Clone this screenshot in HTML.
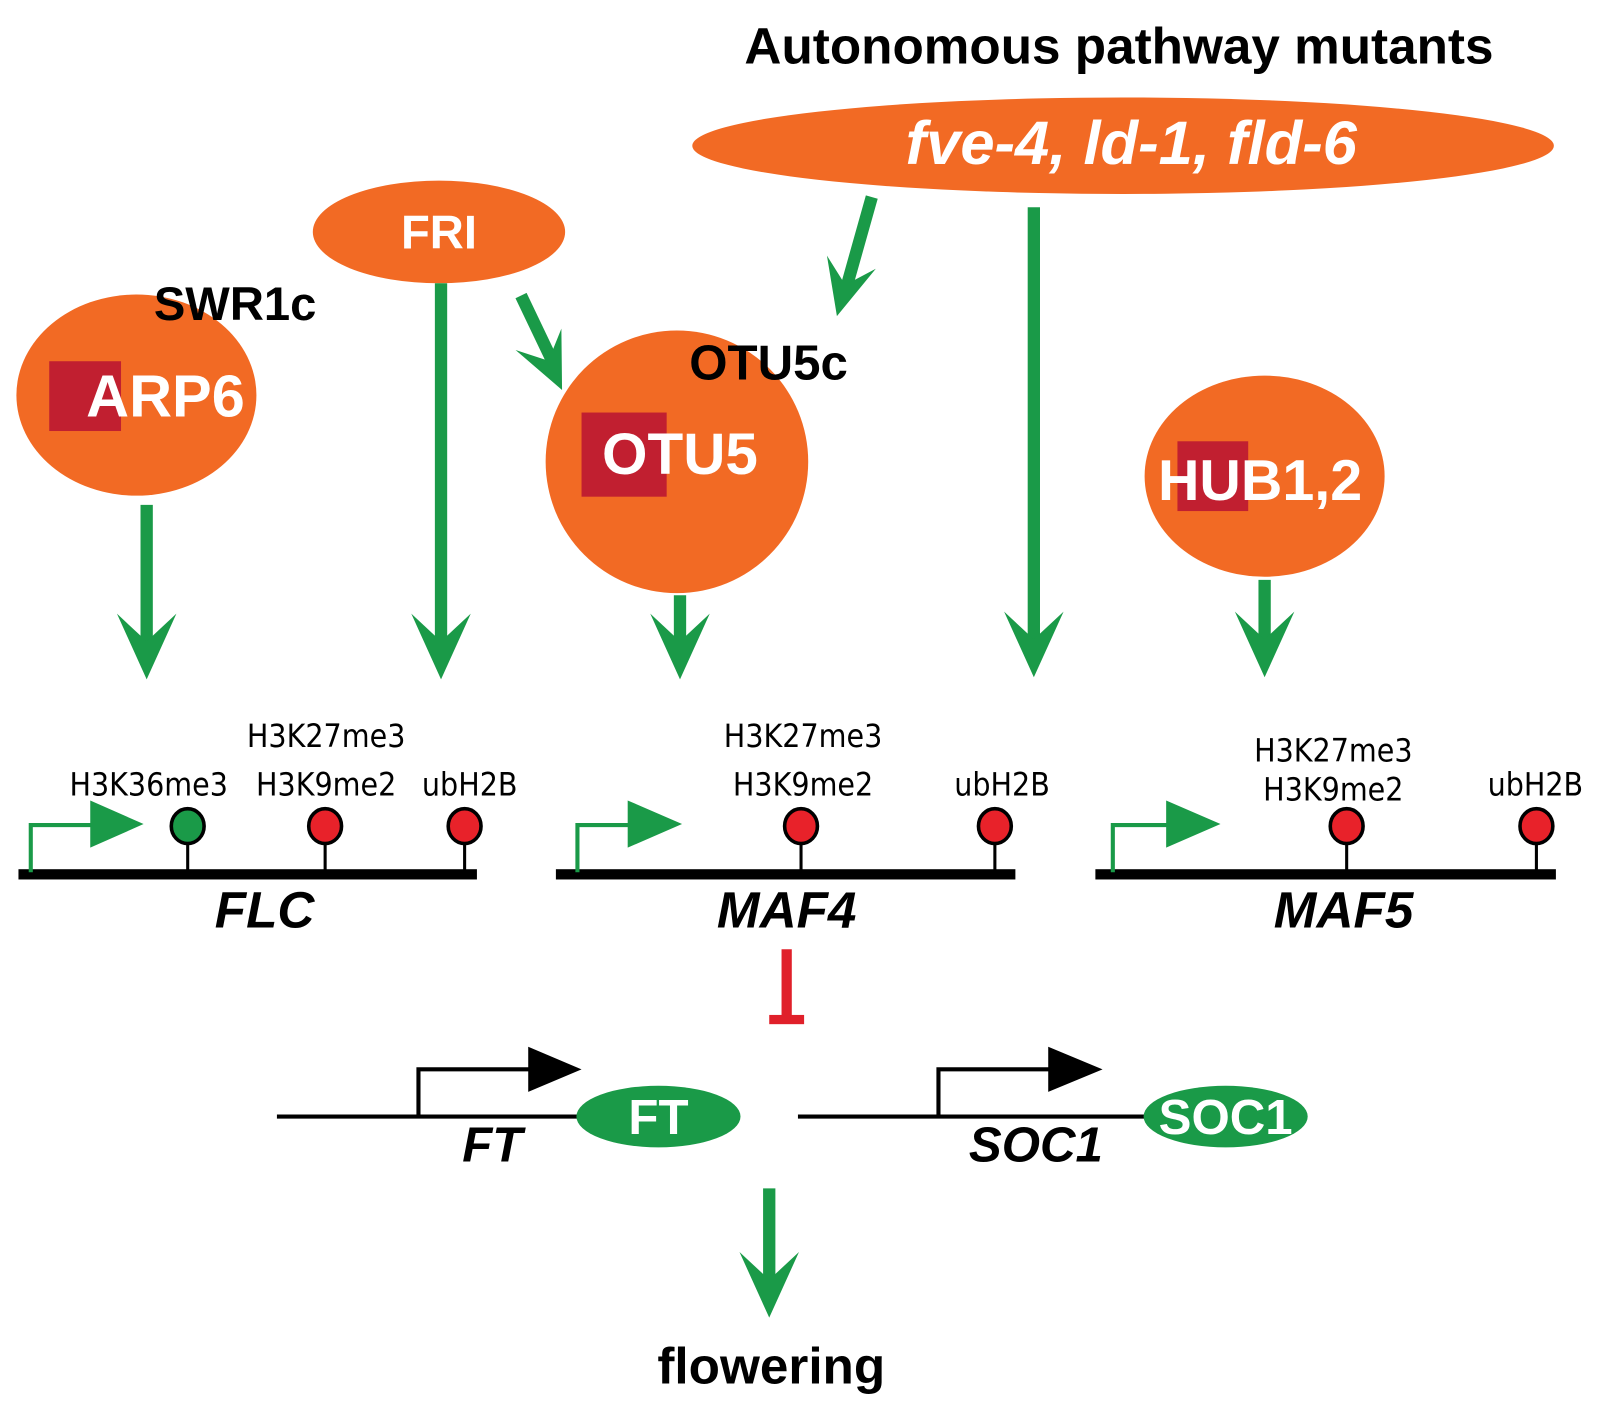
<!DOCTYPE html>
<html><head><style>html,body{margin:0;padding:0;background:#fff}svg{display:block}</style></head><body>
<svg width="1600" height="1409" viewBox="0 0 1560 1373" preserveAspectRatio="none" xmlns="http://www.w3.org/2000/svg" font-family="Liberation Sans, sans-serif">
<defs>
<g id="ah"><polygon points="-29,-64 0,0 29,-64 0,-37" fill="#1a9a48"/></g>
</defs>
<text x="1091" y="62" font-size="50" font-weight="bold" text-anchor="middle">Autonomous pathway mutants</text>
<ellipse cx="1095" cy="142" rx="420" ry="47" fill="#f26a24"/>
<text x="1103" y="160" font-size="60" font-weight="bold" font-style="italic" fill="#fff" text-anchor="middle">fve-4, ld-1, fld-6</text>
<ellipse cx="428" cy="226" rx="123" ry="50" fill="#f26a24"/>
<text x="428" y="242" font-size="46" font-weight="bold" fill="#fff" text-anchor="middle">FRI</text>
<ellipse cx="133" cy="385" rx="117" ry="98" fill="#f26a24"/>
<rect x="48" y="352" width="70" height="68" fill="#c11f30"/>
<text x="84" y="406" font-size="58" font-weight="bold" fill="#fff">ARP6</text>
<text x="150" y="312" font-size="46" font-weight="bold">SWR1c</text>
<circle cx="660" cy="450" r="128" fill="#f26a24"/>
<rect x="567" y="402" width="83" height="82" fill="#c11f30"/>
<text x="587" y="462" font-size="57" font-weight="bold" fill="#fff">OTU5</text>
<text x="672" y="370" font-size="48" font-weight="bold">OTU5c</text>
<ellipse cx="1233" cy="464" rx="117" ry="98" fill="#f26a24"/>
<rect x="1148" y="430" width="69" height="68" fill="#c11f30"/>
<text x="1129" y="487" font-size="56" font-weight="bold" fill="#fff">HUB1,2</text>
<g stroke="#1a9a48" stroke-width="12">
<line x1="143" y1="492" x2="143" y2="630"/>
<line x1="430" y1="276" x2="430" y2="630"/>
<line x1="663" y1="580" x2="663" y2="630"/>
<line x1="1008" y1="202" x2="1008" y2="630"/>
<line x1="1233" y1="565" x2="1233" y2="630"/>
<line x1="508" y1="288" x2="540" y2="355"/>
<line x1="850" y1="192" x2="823" y2="288"/>
<line x1="750" y1="1158" x2="750" y2="1250"/>
</g>
<use href="#ah" transform="translate(143,662)"/>
<use href="#ah" transform="translate(430,662)"/>
<use href="#ah" transform="translate(663,662)"/>
<use href="#ah" transform="translate(1008,660)"/>
<use href="#ah" transform="translate(1233,660)"/>
<use href="#ah" transform="translate(548,380) rotate(-25) scale(0.85)"/>
<use href="#ah" transform="translate(816,308) rotate(15) scale(0.85)"/>
<use href="#ah" transform="translate(750,1284)"/>
<g font-size="31" text-anchor="middle" font-family="DejaVu Sans Condensed, Liberation Sans Narrow, sans-serif">
<text x="145" y="775">H3K36me3</text><text x="318" y="728">H3K27me3</text><text x="318" y="775">H3K9me2</text><text x="458" y="775">ubH2B</text>
<text x="783" y="728">H3K27me3</text><text x="783" y="775">H3K9me2</text><text x="977" y="775">ubH2B</text>
<text x="1300" y="742">H3K27me3</text><text x="1300" y="780">H3K9me2</text><text x="1497" y="775">ubH2B</text>
</g>
<g fill="#000">
<rect x="18" y="847" width="447" height="10"/><rect x="542" y="847" width="448" height="10"/><rect x="1068" y="847" width="449" height="10"/>
</g>
<g stroke="#000" stroke-width="3">
<line x1="183" y1="820" x2="183" y2="850"/><line x1="317" y1="820" x2="317" y2="850"/><line x1="453" y1="820" x2="453" y2="850"/>
<line x1="781" y1="820" x2="781" y2="850"/><line x1="970" y1="820" x2="970" y2="850"/>
<line x1="1313" y1="820" x2="1313" y2="850"/><line x1="1498" y1="820" x2="1498" y2="850"/>
</g>
<g stroke="#000" stroke-width="3.5">
<ellipse cx="183" cy="805" rx="16" ry="17" fill="#1a9a48"/>
<ellipse cx="317" cy="805" rx="16" ry="17" fill="#e8222a"/><ellipse cx="453" cy="805" rx="16" ry="17" fill="#e8222a"/>
<ellipse cx="781" cy="805" rx="16" ry="17" fill="#e8222a"/><ellipse cx="970" cy="805" rx="16" ry="17" fill="#e8222a"/>
<ellipse cx="1313" cy="805" rx="16" ry="17" fill="#e8222a"/><ellipse cx="1498" cy="805" rx="16" ry="17" fill="#e8222a"/>
</g>
<g stroke="#1a9a48" stroke-width="4" fill="none">
<polyline points="30,850 30,804 98,804"/><polyline points="563,850 563,804 620,804"/><polyline points="1085,850 1085,804 1145,804"/>
</g>
<g fill="#1a9a48">
<polygon points="88,780 140,803 88,826"/><polygon points="612,780 665,803 612,826"/><polygon points="1137,780 1190,803 1137,826"/>
</g>
<g font-size="50" font-weight="bold" font-style="italic" text-anchor="middle">
<text x="258" y="904">FLC</text><text x="767" y="904">MAF4</text><text x="1310" y="904">MAF5</text>
</g>
<rect x="762" y="925" width="10" height="72" fill="#e0202a"/><rect x="750" y="989" width="34" height="9" fill="#e0202a"/>
<g stroke="#000" stroke-width="4" fill="none">
<line x1="270" y1="1088" x2="570" y2="1088"/><polyline points="408,1088 408,1042 525,1042"/>
<line x1="778" y1="1088" x2="1120" y2="1088"/><polyline points="915,1088 915,1042 1030,1042"/>
</g>
<polygon points="515,1020 567,1042 515,1064" fill="#000"/>
<polygon points="1022,1020 1075,1042 1022,1064" fill="#000"/>
<ellipse cx="642" cy="1088" rx="80" ry="30" fill="#1a9a48"/>
<text x="642" y="1105" font-size="48" font-weight="bold" fill="#fff" text-anchor="middle">FT</text>
<ellipse cx="1195" cy="1088" rx="80" ry="30" fill="#1a9a48"/>
<text x="1195" y="1105" font-size="48" font-weight="bold" fill="#fff" text-anchor="middle">SOC1</text>
<g font-size="48" font-weight="bold" font-style="italic" text-anchor="middle">
<text x="480" y="1132">FT</text><text x="1010" y="1132">SOC1</text>
</g>
<text x="752" y="1348" font-size="50" font-weight="bold" text-anchor="middle">flowering</text>
</svg>
</body></html>
